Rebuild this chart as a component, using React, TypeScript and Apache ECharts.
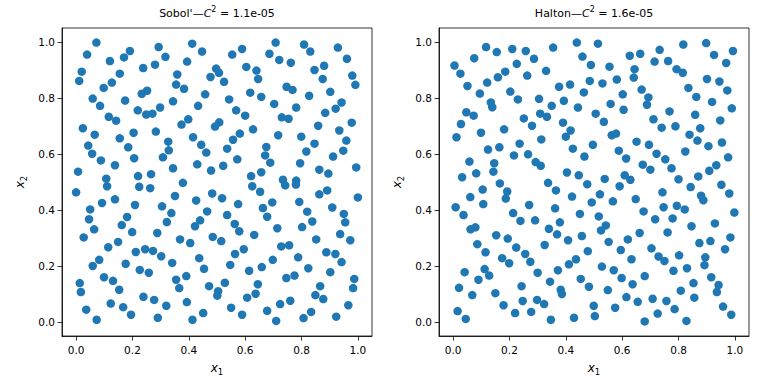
import React, { useEffect, useRef } from 'react';
import * as echarts from 'echarts';

const tickValues = [0, 0.2, 0.4, 0.6, 0.8, 1.0];
const panelNames = ["Sobol'", 'Halton'];
const discrepancies = ['1.1e-05', '1.6e-05'];

const sobolPoints: [number, number][] = [
  [0.072,0.998],[0.039,0.955],[0.191,0.968],[0.170,0.945],[0.120,0.932],[0.293,0.982],[0.020,0.894],[0.011,0.861],[0.238,0.907],[0.280,0.919],
  [0.155,0.887],[0.127,0.855],[0.098,0.836],[0.233,0.815],[0.252,0.826],[0.059,0.798],[0.174,0.791],[0.085,0.772],[0.219,0.756],[0.249,0.741],
  [0.271,0.744],[0.298,0.766],[0.116,0.733],[0.142,0.719],[0.024,0.692],[0.066,0.669],[0.155,0.656],[0.204,0.676],[0.283,0.680],[0.043,0.630],
  [0.057,0.601],[0.185,0.624],[0.088,0.577],[0.206,0.585],[0.138,0.560],[0.308,0.588],[0.007,0.537],[0.107,0.512],[0.220,0.521],[0.266,0.528],
  [0.110,0.485],[0.000,0.463],[0.224,0.483],[0.263,0.478],[0.092,0.425],[0.138,0.438],[0.050,0.402],[0.209,0.418],[0.305,0.413],[0.046,0.367],
  [0.064,0.331],[0.181,0.375],[0.162,0.346],[0.199,0.321],[0.027,0.302],[0.288,0.318],[0.114,0.267],[0.149,0.286],[0.212,0.250],[0.245,0.260],
  [0.273,0.254],[0.302,0.235],[0.082,0.222],[0.059,0.200],[0.176,0.208],[0.226,0.186],[0.258,0.176],[0.099,0.160],[0.131,0.147],[0.013,0.139],
  [0.017,0.107],[0.153,0.115],[0.239,0.090],[0.277,0.079],[0.123,0.066],[0.167,0.053],[0.036,0.044],[0.195,0.026],[0.073,0.008],[0.290,0.015],
  [0.412,0.994],[0.447,0.966],[0.317,0.947],[0.394,0.930],[0.554,0.955],[0.589,0.975],[0.359,0.884],[0.355,0.848],[0.383,0.833],[0.497,0.905],
  [0.507,0.890],[0.477,0.875],[0.525,0.858],[0.604,0.911],[0.640,0.898],[0.646,0.868],[0.458,0.813],[0.618,0.819],[0.657,0.804],[0.344,0.788],
  [0.433,0.772],[0.543,0.795],[0.568,0.756],[0.600,0.737],[0.398,0.724],[0.374,0.705],[0.508,0.713],[0.493,0.698],[0.415,0.660],[0.444,0.633],
  [0.462,0.605],[0.628,0.688],[0.581,0.673],[0.557,0.651],[0.536,0.619],[0.327,0.644],[0.329,0.613],[0.572,0.581],[0.430,0.563],[0.522,0.558],
  [0.479,0.541],[0.344,0.549],[0.675,0.625],[0.671,0.595],[0.621,0.521],[0.657,0.535],
  [0.379,0.497],[0.625,0.485],[0.653,0.465],[0.351,0.450],[0.426,0.434],[0.483,0.459],[0.518,0.442],[0.575,0.421],[0.663,0.407],[0.678,0.376],
  [0.338,0.389],[0.322,0.357],[0.465,0.395],[0.440,0.363],[0.422,0.342],[0.536,0.382],[0.563,0.350],[0.579,0.324],[0.632,0.311],[0.369,0.295],
  [0.405,0.282],[0.485,0.304],[0.515,0.289],[0.341,0.211],[0.437,0.228],[0.454,0.190],[0.564,0.243],[0.595,0.260],[0.547,0.204],[0.614,0.183],
  [0.659,0.196],[0.391,0.164],[0.355,0.151],[0.366,0.121],[0.472,0.128],[0.528,0.140],[0.504,0.110],[0.501,0.094],[0.645,0.135],[0.637,0.101],
  [0.607,0.087],[0.320,0.058],[0.393,0.071],[0.550,0.051],[0.451,0.032],[0.413,0.008],[0.589,0.026],[0.678,0.040],
  [0.708,0.998],[0.686,0.958],[0.721,0.936],[0.762,0.926],[0.809,0.991],[0.831,0.966],[0.929,0.980],[0.961,0.940],[0.846,0.900],[0.880,0.915],
  [0.875,0.868],[0.980,0.880],[0.991,0.847],[0.747,0.840],[0.768,0.829],[0.827,0.808],[0.902,0.822],[0.703,0.779],[0.781,0.766],[0.942,0.784],
  [0.921,0.762],[0.884,0.747],[0.730,0.731],[0.754,0.726],[0.978,0.712],[0.859,0.701],[0.934,0.684],[0.717,0.667],[0.799,0.662],[0.846,0.637],
  [0.959,0.648],[0.689,0.569],[0.817,0.609],[0.948,0.612],[0.912,0.591],[0.795,0.567],[0.863,0.544],[0.895,0.530],[0.994,0.552],[0.734,0.508],
  [0.781,0.505],
  [0.742,0.488],[0.780,0.491],[0.696,0.427],[0.863,0.456],[0.891,0.470],[1.000,0.445],[0.792,0.429],[0.820,0.394],[0.838,0.359],[0.909,0.409],
  [0.950,0.386],[0.955,0.356],[0.714,0.335],[0.802,0.339],[0.852,0.295],[0.937,0.314],[0.973,0.292],[0.728,0.270],[0.756,0.274],[0.698,0.222],
  [0.788,0.231],[0.888,0.249],[0.920,0.243],[0.942,0.214],[0.824,0.192],[0.902,0.178],[0.746,0.157],[0.775,0.166],[0.987,0.154],[0.983,0.121],
  [0.866,0.128],[0.849,0.096],[0.877,0.082],[0.724,0.064],[0.760,0.076],[0.966,0.060],[0.710,0.004],[0.807,0.014],[0.834,0.036],[0.923,0.019]
];

const haltonPoints: [number, number][] = [
  [0.117,0.982],[0.155,0.964],[0.210,0.975],[0.258,0.968],[0.287,0.940],[0.075,0.942],[0.005,0.916],[0.026,0.887],[0.226,0.922],[0.185,0.894],
  [0.159,0.874],[0.263,0.880],[0.121,0.855],[0.051,0.843],[0.095,0.816],[0.203,0.823],[0.230,0.795],[0.305,0.797],[0.134,0.784],[0.139,0.767],
  [0.047,0.749],[0.073,0.737],[0.309,0.744],[0.251,0.727],[0.280,0.701],[0.028,0.707],[0.181,0.688],[0.099,0.676],[0.012,0.660],[0.313,0.652],
  [0.236,0.637],[0.164,0.624],[0.124,0.616],[0.216,0.595],[0.266,0.599],[0.293,0.571],[0.311,0.558],[0.058,0.573],[0.146,0.567],[0.082,0.531],
  [0.143,0.537],[0.032,0.517],
  [0.355,0.980],[0.439,0.998],[0.514,0.994],[0.627,0.951],[0.664,0.958],[0.459,0.948],[0.489,0.918],[0.555,0.912],[0.330,0.897],[0.644,0.903],
  [0.641,0.873],[0.581,0.866],[0.485,0.861],[0.530,0.852],[0.415,0.848],[0.376,0.840],[0.464,0.820],[0.669,0.830],[0.602,0.813],[0.393,0.790],
  [0.350,0.772],[0.443,0.766],[0.559,0.779],[0.605,0.758],[0.506,0.744],[0.333,0.733],[0.535,0.715],[0.390,0.712],[0.417,0.684],[0.400,0.662],
  [0.563,0.667],[0.578,0.673],[0.651,0.644],[0.496,0.633],[0.425,0.619],[0.588,0.612],[0.466,0.591],[0.614,0.584],[0.673,0.562],[0.404,0.534],
  [0.446,0.524],[0.538,0.511],[0.609,0.524],[0.629,0.508],
  [0.817,0.991],[0.898,0.996],[0.733,0.972],[0.926,0.954],[0.993,0.968],[0.715,0.930],[0.763,0.932],[0.969,0.925],[0.793,0.903],[0.815,0.890],
  [0.901,0.868],[0.945,0.859],[0.835,0.836],[0.973,0.827],[0.863,0.804],[0.693,0.802],[0.688,0.776],[0.919,0.786],[0.989,0.763],[0.768,0.752],
  [0.859,0.740],[0.711,0.724],[0.948,0.720],[0.740,0.694],[0.789,0.699],[0.877,0.692],[0.839,0.669],[0.867,0.648],[0.954,0.641],[0.695,0.633],
  [0.906,0.628],[0.722,0.601],[0.824,0.609],[0.976,0.588],[0.753,0.581],[0.700,0.544],[0.775,0.549],[0.934,0.560],[0.909,0.540],[0.870,0.520],
  [0.800,0.510],
  [0.166,0.495],[0.105,0.473],[0.192,0.466],[0.187,0.441],[0.061,0.446],[0.107,0.421],[0.009,0.410],[0.037,0.382],[0.270,0.418],[0.213,0.389],
  [0.239,0.361],[0.291,0.363],[0.062,0.331],[0.079,0.338],[0.153,0.310],[0.194,0.298],[0.086,0.278],[0.224,0.266],[0.115,0.249],[0.256,0.243],
  [0.274,0.215],[0.174,0.228],[0.199,0.210],[0.300,0.176],[0.041,0.178],[0.112,0.189],[0.128,0.166],[0.090,0.151],[0.021,0.122],[0.243,0.128],
  [0.068,0.096],[0.150,0.103],[0.298,0.079],[0.247,0.075],[0.179,0.060],[0.016,0.039],[0.045,0.011],[0.220,0.032],[0.277,0.036],
  [0.337,0.497],[0.365,0.470],[0.476,0.492],[0.591,0.485],[0.422,0.448],[0.521,0.456],[0.492,0.427],[0.567,0.431],[0.648,0.439],[0.362,0.406],
  [0.450,0.386],[0.517,0.377],[0.676,0.395],[0.379,0.356],[0.340,0.333],[0.369,0.313],[0.542,0.345],[0.525,0.327],[0.457,0.307],[0.408,0.292],
  [0.552,0.286],[0.620,0.295],[0.662,0.318],[0.325,0.275],[0.478,0.253],[0.595,0.257],[0.436,0.224],[0.411,0.206],[0.633,0.224],[0.528,0.198],
  [0.570,0.185],[0.372,0.185],[0.598,0.157],[0.680,0.164],[0.344,0.144],[0.453,0.154],[0.482,0.126],[0.637,0.135],[0.549,0.114],[0.382,0.115],
  [0.386,0.100],[0.615,0.089],[0.655,0.072],[0.323,0.064],[0.499,0.058],[0.575,0.051],[0.503,0.021],[0.429,0.015],[0.347,0.008],[0.680,0.002],
  [0.843,0.482],[0.952,0.490],[0.980,0.459],[0.743,0.463],[0.880,0.451],[0.888,0.435],[0.794,0.415],[0.822,0.402],[0.747,0.410],[0.717,0.367],
  [0.779,0.370],[0.998,0.391],[0.929,0.352],[0.846,0.342],[0.761,0.320],[0.874,0.282],[0.913,0.289],[0.984,0.302],[0.965,0.260],[0.704,0.263],
  [0.729,0.234],[0.750,0.218],[0.802,0.238],[0.895,0.231],[0.892,0.203],[0.782,0.183],[0.830,0.192],[0.916,0.160],[0.853,0.139],[0.942,0.132],
  [0.936,0.107],[0.808,0.112],[0.708,0.083],[0.757,0.075],[0.856,0.087],[0.786,0.046],[0.958,0.055],[0.987,0.026],[0.726,0.030],[0.828,0.004]
];

const FONT = 'DejaVu Sans';

export default function App() {
  const ref = useRef<HTMLDivElement>(null);
  useEffect(() => {
    const chart = echarts.init(ref.current!, null, { renderer: 'svg' });
    const lefts = [62, 439];
    const gridW = 310;
    const gridTop = 28;
    const gridH = 308;
    const nameRich = {
      i: { fontStyle: 'italic', fontSize: 12, fontFamily: FONT, color: '#000', lineHeight: 16, verticalAlign: 'middle' },
      s: { fontSize: 8.5, fontFamily: FONT, color: '#000', lineHeight: 8, verticalAlign: 'bottom' }
    };
    const mkAxis = (i: number, isX: boolean) => ({
      type: 'value',
      gridIndex: i,
      min: -0.05,
      max: 1.05,
      axisLine: { show: true, onZero: false, lineStyle: { color: '#000', width: 0.8 } },
      axisTick: { show: true, customValues: tickValues, length: 4.5, inside: false, lineStyle: { color: '#000', width: 0.8 } },
      axisLabel: {
        customValues: tickValues,
        formatter: (v: number) => v.toFixed(1),
        color: '#000',
        fontSize: 10.5,
        fontFamily: FONT,
        margin: isX ? 8 : 7
      },
      splitLine: { show: false },
      name: isX ? '{i|x}{s|1}' : '{i|x}{s|2}',
      nameLocation: 'middle',
      nameGap: isX ? 24 : 34,
      nameRotate: isX ? 0 : 90,
      nameTextStyle: { rich: nameRich }
    });
    const titleRich = {
      n: { fontSize: 11, fontFamily: FONT, color: '#000', lineHeight: 16, verticalAlign: 'middle' },
      i: { fontSize: 11, fontFamily: FONT, fontStyle: 'italic', color: '#000', lineHeight: 16, verticalAlign: 'middle' },
      sup: { fontSize: 8, fontFamily: FONT, color: '#000', lineHeight: 8, verticalAlign: 'top' }
    };
    const datasets = [sobolPoints, haltonPoints];
    chart.setOption({
      animation: false,
      backgroundColor: '#fff',
      graphic: panelNames.map((nm, i) => ({
        type: 'text',
        x: lefts[i] + gridW / 2,
        y: 13,
        silent: true,
        style: {
          text: `{n|${nm}—}{i|C}{sup|2}{n| = ${discrepancies[i]}}`,
          rich: titleRich,
          font: `11px ${FONT}`,
          fill: '#000',
          align: 'center',
          verticalAlign: 'middle'
        }
      })),
      grid: lefts.map((l) => ({
        left: l,
        top: gridTop,
        width: gridW,
        height: gridH,
        show: true,
        borderColor: '#000',
        borderWidth: 0.8,
        backgroundColor: 'transparent',
        containLabel: false
      })),
      xAxis: lefts.map((_, i) => mkAxis(i, true)),
      yAxis: lefts.map((_, i) => mkAxis(i, false)),
      series: datasets.map((d, i) => ({
        type: 'scatter',
        xAxisIndex: i,
        yAxisIndex: i,
        data: d,
        symbolSize: 8.5,
        itemStyle: { color: '#1f77b4', opacity: 1 },
        emphasis: { disabled: true }
      }))
    });
    return () => chart.dispose();
  }, []);
  return (
    <div
      ref={ref}
      style={{ position: 'absolute', left: 0, top: 0, width: 768, height: 384, background: '#fff' }}
    />
  );
}
